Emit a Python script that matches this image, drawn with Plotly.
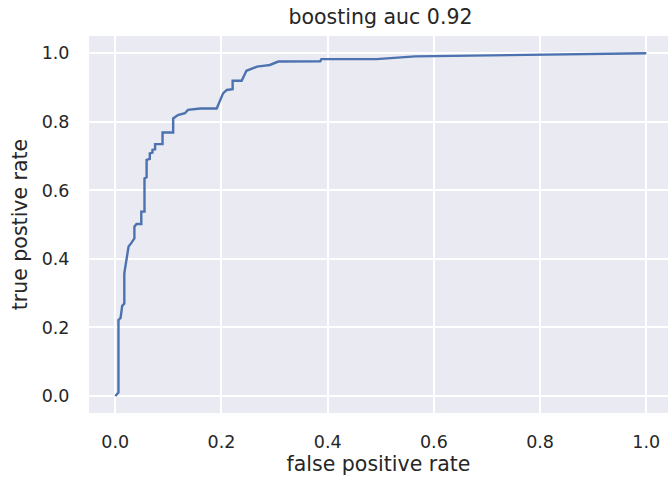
import plotly.graph_objects as go

title_text = "boosting auc 0.92"
x_label = "false positive rate"
y_label = "true postive rate"

fpr = [0.0, 0.006, 0.006, 0.010, 0.013, 0.017, 0.017, 0.025, 0.030, 0.036,
       0.036, 0.040, 0.049, 0.049, 0.055, 0.055, 0.059, 0.059, 0.065, 0.065,
       0.070, 0.070, 0.075, 0.075, 0.089, 0.089, 0.109, 0.109, 0.118, 0.131,
       0.137, 0.160, 0.191, 0.197, 0.203, 0.210, 0.221, 0.221, 0.238, 0.247,
       0.257, 0.267, 0.282, 0.291, 0.307, 0.386, 0.388, 0.492, 0.565, 1.0]
tpr = [0.0, 0.010, 0.222, 0.228, 0.263, 0.270, 0.358, 0.436, 0.446, 0.460,
       0.494, 0.502, 0.502, 0.538, 0.538, 0.635, 0.638, 0.689, 0.692, 0.708,
       0.710, 0.718, 0.720, 0.735, 0.735, 0.769, 0.769, 0.810, 0.820, 0.825,
       0.835, 0.839, 0.839, 0.859, 0.883, 0.893, 0.895, 0.920, 0.920, 0.949,
       0.956, 0.961, 0.964, 0.966, 0.976, 0.977, 0.983, 0.983, 0.991, 1.0]

tick_vals = [0.0, 0.2, 0.4, 0.6, 0.8, 1.0]
tick_text = ["0.0", "0.2", "0.4", "0.6", "0.8", "1.0"]

font_fam = "DejaVu Sans"
txt_color = "#262626"

fig = go.Figure()
fig.add_trace(go.Scatter(x=fpr, y=tpr, mode="lines",
                         line=dict(color="#4C72B0", width=2.4),
                         showlegend=False, hoverinfo="skip"))

fig.update_layout(
    width=668, height=478,
    margin=dict(l=89, r=0, t=36, b=65),
    paper_bgcolor="white",
    plot_bgcolor="#EAEAF2",
    font=dict(family=font_fam, color=txt_color, size=17.5),
    title=dict(text=title_text, x=(89 + 672) / 2 / 668, xanchor="center",
               y=1 - 17 / 478, yanchor="middle",
               font=dict(size=20.5, color=txt_color, family=font_fam)),
)
fig.update_xaxes(
    range=[-0.0495, 1.0409], tickvals=tick_vals, ticktext=tick_text,
    showgrid=True, gridcolor="white", gridwidth=1.7, zeroline=False,
    showline=False, ticks="outside", ticklen=13, tickcolor="rgba(0,0,0,0)",
    tickfont=dict(size=17.5, color=txt_color),
    title=dict(text=x_label, font=dict(size=20.5, color=txt_color), standoff=4),
)
fig.update_yaxes(
    range=[-0.0496, 1.0505], tickvals=tick_vals, ticktext=tick_text,
    showgrid=True, gridcolor="white", gridwidth=1.7, zeroline=False,
    showline=False, ticks="outside", ticklen=15, tickcolor="rgba(0,0,0,0)",
    tickfont=dict(size=17.5, color=txt_color),
    title=dict(text=y_label, font=dict(size=20.5, color=txt_color), standoff=8),
)

fig.write_html("out.html")
